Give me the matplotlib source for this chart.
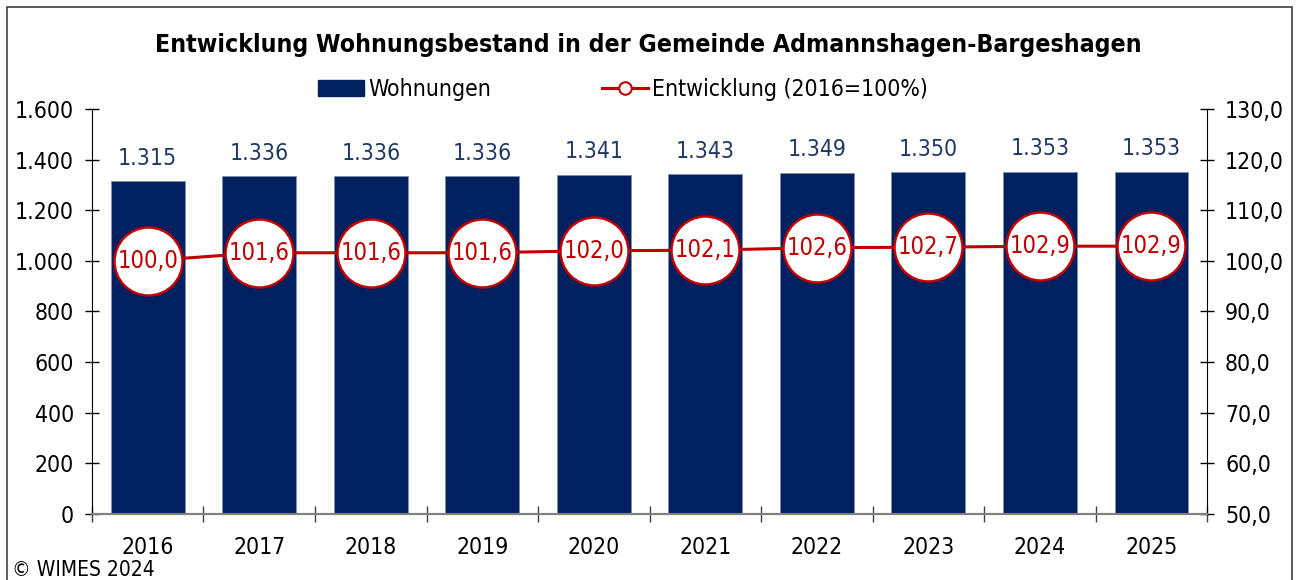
import matplotlib.pyplot as plt
from matplotlib.patches import Rectangle
from matplotlib.lines import Line2D
from matplotlib.ticker import FuncFormatter, FixedLocator

years = ["2016", "2017", "2018", "2019", "2020", "2021", "2022", "2023", "2024", "2025"]
wohnungen = [1315, 1336, 1336, 1336, 1341, 1343, 1349, 1350, 1353, 1353]
entwicklung = [100.0, 101.6, 101.6, 101.6, 102.0, 102.1, 102.6, 102.7, 102.9, 102.9]

bar_color = "#002060"
line_color = "#C00000"
label_blue = "#203864"

plt.rcParams["font.family"] = ["DejaVu Sans"]
plt.rcParams["font.stretch"] = "condensed"

fig = plt.figure(figsize=(13.01, 5.8), dpi=100)
ax = fig.add_axes([0.0707, 0.1138, 0.8571, 0.6983])
ax2 = ax.twinx()

x = list(range(len(years)))
ax.bar(x, wohnungen, width=0.66, color=bar_color, edgecolor="#8090b0", linewidth=0.6, zorder=2)
for xi, v in zip(x, wohnungen):
    ax.annotate(f"{v:,}".replace(",", "."), (xi, v), xytext=(0, 8), textcoords="offset points",
                ha="center", va="bottom", fontsize=16.5, color=label_blue)

ax.set_xlim(-0.5, len(years) - 0.5)
ax.set_ylim(0, 1600)
ax.set_yticks(range(0, 1601, 200))
ax.yaxis.set_major_formatter(FuncFormatter(lambda v, p: f"{int(v):,}".replace(",", ".")))
ax.set_xticks(x)
ax.set_xticklabels(years)
ax.xaxis.set_minor_locator(FixedLocator([i - 0.5 for i in range(len(years) + 1)]))
ax.tick_params(axis="x", which="major", length=0, pad=16, labelsize=16.5)
ax.tick_params(axis="x", which="minor", direction="inout", length=11, width=1, color="#404040")
ax.tick_params(axis="y", direction="inout", length=10, width=1, labelsize=16.5, pad=8)

ax2.plot(x, entwicklung, color=line_color, linewidth=2.2, marker="o", markersize=49,
         markerfacecolor="white", markeredgecolor=line_color, markeredgewidth=1.8, zorder=3)
for xi, v in zip(x, entwicklung):
    ax2.text(xi, v, f"{v:.1f}".replace(".", ","), ha="center", va="center",
             fontsize=17, color=line_color, zorder=4)
ax2.set_ylim(50, 130)
ax2.set_yticks(range(50, 131, 10))
ax2.yaxis.set_major_formatter(FuncFormatter(lambda v, p: f"{v:.1f}".replace(".", ",")))
ax2.tick_params(axis="y", direction="inout", length=10, width=1, labelsize=16.5, pad=8)

for a in (ax, ax2):
    a.spines["top"].set_visible(False)
    a.spines["bottom"].set_color("#808080")
    a.spines["bottom"].set_linewidth(1.5)
ax.spines["right"].set_visible(False)
ax2.spines["left"].set_visible(False)

fig.text(0.498, 0.922, "Entwicklung Wohnungsbestand in der Gemeinde Admannshagen-Bargeshagen",
         ha="center", va="center", fontsize=17.8, fontweight="bold")

handles = [
    Rectangle((0, 0), 1, 1, color=bar_color),
    Line2D([], [], color=line_color, linewidth=2.2, marker="o", markersize=9,
           markerfacecolor="white", markeredgecolor=line_color, markeredgewidth=1.5),
]
fig.legend(handles, ["Wohnungen", "Entwicklung (2016=100%)"], loc="center",
           bbox_to_anchor=(0.479, 0.845), ncol=2, frameon=False, fontsize=16.5,
           handlelength=2.0, handletextpad=0.2, columnspacing=4.8)

fig.text(0.009, 0.017, "© WIMES 2024", ha="left", va="center", fontsize=15)
fig.patches.append(Rectangle((0.0054, -0.05), 0.9877, 1.038, transform=fig.transFigure,
                             fill=False, edgecolor="#404040", linewidth=1.2))

fig.savefig("out.png", dpi=100)
